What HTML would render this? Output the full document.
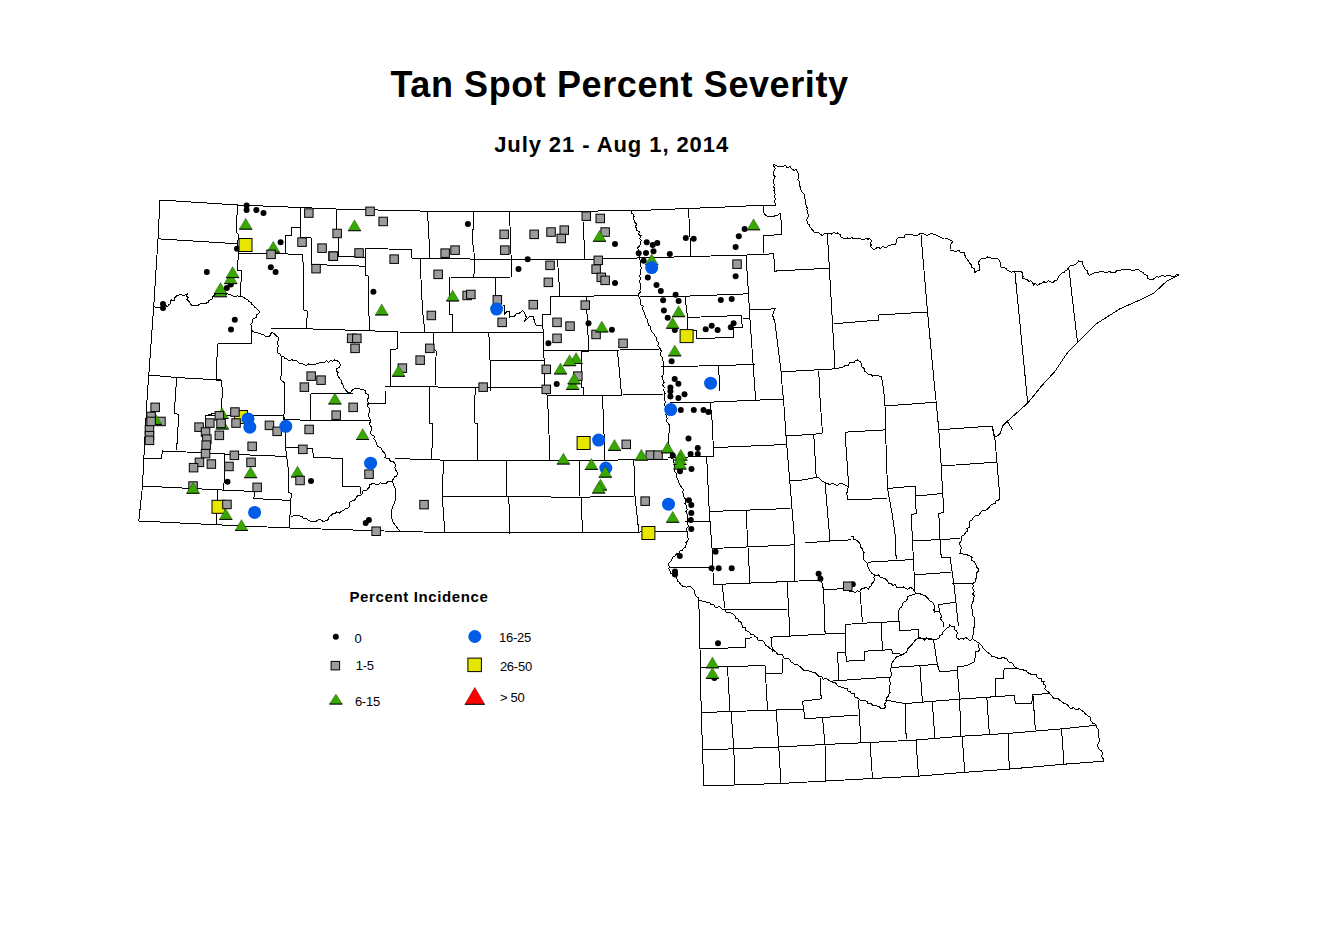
<!DOCTYPE html>
<html><head><meta charset="utf-8"><style>
html,body{margin:0;padding:0;background:#fff;}
svg{display:block;}
text{font-family:"Liberation Sans",sans-serif;fill:#000;}
</style></head><body>
<svg width="1341" height="926" viewBox="0 0 1341 926">
<rect width="1341" height="926" fill="#fff"/>
<text x="619.5" y="97.3" font-size="36" font-weight="bold" text-anchor="middle" letter-spacing="0.59">Tan Spot Percent Severity</text>
<text x="611.6" y="151.6" font-size="22" font-weight="bold" text-anchor="middle" letter-spacing="0.92">July 21 - Aug 1, 2014</text>
<g fill="none" stroke="#000" stroke-width="1" shape-rendering="crispEdges"><path d="M160 200 L237.5 205 L300 207.5 L336 209 L427.5 211.2 L470 211.8 L631 210.8 L740 206.4 L756.8 205.3 L775.6 205.1 M160 200 L158 238.8 L153.8 305 L148.8 375 L147.5 391 L143.8 458.5 L142.5 486 L138.8 521 M138.8 521 L217.5 524.8 L290 528 L400 531.5 L470 533 L640 532 L687.5 531 M775.6 205.1 L775 203.1 L774.5 201.1 L775.7 199 L774.1 197 L775.2 194.9 L774.7 192.9 L773.8 190.9 L774.9 188.9 L773.5 186.9 L774.5 184.8 L773.4 182.8 L773.4 180.8 L774.2 178.7 L775.1 176.6 L773.2 174.7 L773.4 172.7 L774.3 170.6 L775.1 168.5 L774 166.5 L773.7 164.5 L776.4 165.6 L778.9 167.1 L782.7 166.5 L785.3 165.2 L786.8 167.6 L790.2 166.8 L791.8 169.1 L793.9 170.3 L796.3 169.7 L797.3 171.6 L798.1 173.5 L798.6 175.5 L798.6 177.6 L797.8 179.9 L799.9 181.6 L799.3 183.8 L799.6 185.9 L800.8 187.7 L800.9 189.8 L801.8 192.1 L803.9 193.9 L804.9 196.2 L804.8 198.9 L806 201 L805.3 203.4 L806.4 205.5 L807.1 207.7 L806.9 210 L807.7 212.2 L808 214.4 L808.4 216.7 L806.9 218.9 L807 221.2 L807.4 223.5 L809.2 224.7 L809.8 226.9 L811.2 228.4 L812.5 230 L814 232 L816.1 232.8 L818.6 232.9 L820.3 234.5 L822.8 235.5 L824.9 233 L827.4 233.8 L829.4 233.4 L831.5 234.1 L833.4 232.4 L835.5 233.1 L837.5 233 L840.3 234.5 L841.2 237.5 L843.3 238 L845.3 238.4 L847.4 238 L849.4 238.8 L851.5 237.5 L853.5 238.5 L855.6 238.4 L857.7 238.4 L859.7 238.2 L861.7 239.3 L863.8 239.6 L865.9 238.5 L867.9 239.1 L870 238.8 L871.6 240.5 L870.5 242.9 L871.1 244.8 L870.8 247.1 L872.5 248.8 L874.7 249.4 L876.6 247.8 L878.7 247.8 L880.9 248.4 L882.8 246.5 L885 247.5 L887 246.9 L888.8 245.7 L890.8 245 L892.7 244.4 L895 245 L896.3 242.7 L896.2 240 L897.7 238.2 L899.7 237.6 L901.8 237 L904.2 237.2 L905.1 234.4 L907.5 234.5 L909.5 234.3 L911.6 234.5 L913.7 235.4 L915.7 235.1 L917.7 235.2 L919.8 233.7 L921.8 234 L923.9 233.8 L925.9 235.1 L928 235.2 L930 234 L932.3 233.8 L934.3 234.5 L936.4 235.3 L938.4 236 L940.2 237.3 L942.2 238.2 L944.5 238 L946.8 238 L948.5 239.7 L950.6 240.3 L952.5 241.2 L951.7 243.4 L950.1 245.3 L950.1 247.7 L950 250 L952.1 250.4 L954.2 251 L956.4 251.5 L958.8 250.3 L960.5 252.8 L962.7 252.9 L965 252.5 L964.9 255.3 L965.9 257.7 L967.5 260 L968.8 261.6 L969.9 263.4 L971.6 264.8 L971.5 267.3 L973.8 268.3 L974.9 270.1 L975 272.5 L977.2 270.6 L980 270 L979.1 268 L979.6 266 L978.8 264 L978.7 262 L980 260 L981.8 258.6 L983.7 258 L985.9 258.2 L987.7 256.8 L990 257.5 L992 258.9 L994.2 258.7 L996.6 258 L998.6 259.3 L1000 261.7 L1000.4 264.3 L1000.8 266.9 L1003.1 267.6 L1005.6 268.2 L1007.3 270.1 L1009.3 271.4 L1011.4 272.1 L1013.8 271.2 L1016.3 271.1 L1018.8 271.2 L1021.3 271.2 L1022.7 273.6 L1023.1 276.1 L1022.4 278.8 L1024.6 278.9 L1026.8 279.3 L1028.6 281.2 L1031 280.9 L1032.9 282.6 L1033.2 285.2 L1035.1 283.5 L1037.8 285.3 L1039.7 283.7 L1041.8 283.1 L1043.8 281.8 L1046.2 282.5 L1048.1 280.8 L1050.5 281.7 L1052.8 282.5 L1054.8 280.9 L1056.9 280.1 L1058 278.4 L1058.7 276.2 L1060.3 274.9 L1061.4 273.1 L1064 272.8 L1065 270.9 L1066.9 269.9 L1067.8 268 L1069.4 266.5 L1071 265.1 L1073.6 265.2 L1075.7 264.4 L1077.3 262.9 L1078.6 261 L1080.7 262 L1082.9 261.5 L1082.8 264.2 L1083.7 266.7 L1085 269 L1087.1 270.8 L1087.9 273.4 L1089.4 275.5 L1091.4 274.5 L1093.4 273.1 L1095.5 272.5 L1097.8 272.5 L1100 271.8 L1102.3 271.8 L1104.5 272.1 L1106.7 272.7 L1108.8 271.2 L1111 272.3 L1113.2 272.3 L1115.4 272.1 L1117.4 270.4 L1119.6 270.6 L1121.7 269.7 L1123.9 269.5 L1126 269.2 L1128.2 269 L1130.4 269.9 L1132.7 270.4 L1134.8 270.1 L1136.9 269 L1139.1 270.1 L1141 271.6 L1143.3 272.3 L1144.3 274.7 L1147.4 275.3 L1147.9 278.2 L1149.8 279.8 L1152.4 279.7 L1154.5 278.3 L1156.3 276.6 L1158.5 277.1 L1160.6 276.2 L1162.7 275.2 L1165 276.6 L1167.1 275.2 L1169.3 275.5 L1171.8 276.1 L1174.2 276.4 L1176.6 274.8 L1179 274.9 M1179 274.9 L1167.1 280.9 L1154.1 292.8 L1141.2 299.3 L1119.6 309 L1095.8 324.1 L1078.6 341.4 L1067.8 352.2 L1054.8 371.6 L1041.8 385.7 L1027.8 403 L1007.3 421.3 L1003 425.6 L999.7 434.3 L994.3 437.5 L992.2 426 M1007.3 421.3 L1012.7 430 M992.2 426 L994.8 437.2 L1000 498.5 M1000 498.5 L998.5 500.3 L995.8 501 L995 503.5 L992.2 504.2 L990 506 L988.8 507.9 L987.2 509.3 L985.5 510.5 L982.7 510.2 L981.2 511.6 L980 513.5 L978.9 515.5 L976.2 515.3 L974.3 516.3 L973.1 518.2 L971.9 520.1 L970 521 L969.4 523 L969.9 525.2 L969.7 527.3 L966.8 528.7 L967.5 531 L965.6 532.6 L964.3 534.7 L961.9 535.9 L961.2 538.5 L961.2 540.7 L959.9 542.7 L959.9 544.9 L961.3 547.1 L961 549.3 L960.7 551.4 L960 553.5 L962.2 553.3 L963.9 554.7 L966.2 554.4 L968.1 555.3 L970 556 L972.1 557.3 L971.7 560.3 L974.2 561.4 L975.2 563.4 L976.3 565.4 L976.9 567.7 L979 569 L978.5 571.2 L976.6 573 L977 575.5 L976.3 577.6 L975.6 579.8 L975 582 L972 584 L973.5 585.8 L972.7 588 L973.6 589.9 L974.3 591.8 L972.5 594.1 L974.3 595.9 L973.8 598 L974 600 L972.5 602.1 L971.9 604.6 L971 607 L972 609 L972.1 611.3 L972.6 613.5 L972.6 615.9 L974.9 617.6 L974.5 620 L974.2 622.2 L974.9 624.4 L974.7 626.5 L973.2 628.6 L973.8 630.8 L973.5 633 L972.9 635.1 L972.3 637.3 L973.2 639.5 M973.2 639.5 L975.4 640.6 L977.3 642.2 L979.5 643.2 L981 645 L982.5 646.7 L983.6 648.8 L985.6 650.2 L987 652 L988.8 653.3 L990.7 654.4 L991.9 656.6 L994.4 656.9 L996.4 657.6 L998.4 658.3 L1000.5 658.6 L1002.7 657.1 L1004.7 658.1 L1006.8 658.1 L1007.4 660.6 L1009.1 662.2 L1012 662.7 L1013.5 664.4 L1014.3 666.8 L1016.8 667.9 L1019.2 669.3 L1021.7 669 L1023.7 670.1 L1025.9 670.4 L1027.6 672.6 L1029.6 673.6 L1031.6 674.6 L1034.1 674.3 L1036.3 674.8 L1037.1 677.2 L1038.8 678.3 L1041.3 678.5 L1041.8 681.3 L1044 681.7 L1043.5 684.2 L1046 685.8 L1044.7 688.5 L1046.5 690.4 L1048.4 691.9 L1049.9 693.7 L1051.5 695.4 L1052.8 697.7 L1055 698.6 L1058 698.4 L1059.6 700.2 L1061.5 701.6 L1063.1 702.8 L1065 703.6 L1066.9 704.4 L1068.4 705.8 L1069.4 707.8 L1071.4 708.5 L1073.6 707.6 L1075.3 709.4 L1077.4 709.4 L1079.5 708.7 L1081.3 710.3 L1083.5 711.5 L1084.8 713.6 L1086.9 715 L1088.8 716.5 L1090.9 717.5 L1090.3 720.6 L1091.9 721.9 L1092.8 723.8 L1095.8 724.1 L1096.2 726.4 L1097.6 728.7 L1099 731 L1098.7 733.9 L1098 736 L1099.3 738.2 L1099.7 740.3 L1098.9 742.4 L1097.6 744.5 L1097.9 746.7 L1098.7 748.8 L1100.4 750.1 L1101.9 751.5 L1102.4 753.7 L1101.8 756.4 L1103.1 758.7 L1103.7 761.2 M1103.7 761.2 L1064 764.2 L1009.3 769.1 L963.3 772.4 L918.6 776.1 L872.5 778.5 L826 781 L780 783.5 L703.8 786 M703.8 786 L702.5 750 L701.2 710 L700 648.8 L698.8 600 M631 210.8 L631.2 212.9 L633.3 214.3 L634.1 216.3 L633.2 218.7 L634.5 220.5 L635 222.5 L636.7 224.1 L635.3 226.8 L636.8 228.5 L637 230.5 L639.5 231.9 L638.3 234.5 L640.9 235.7 L639.7 238.4 L641.2 240 L640.7 242.1 L640.4 244.3 L639.2 246.2 L637.7 248 L638.7 250.6 L637.5 252.5 L639.2 254.7 L639.1 257.5 L640 260 L640.7 262 L641 264 L640.9 266 L641.2 268 L640.8 270 L640.5 272 L640.5 274 L639.3 276 L640.5 278 L640 280 L639.8 282 L640.5 284.1 L639.9 286.1 L640.6 288.2 L639.9 290.2 L640.3 292.3 L638.3 294.2 L638.8 296.2 L639.3 298.4 L640.9 300.2 L640.9 302.5 L640.5 304.9 L643.2 306.3 L642.1 309 L643.8 310.8 L644.3 312.9 L645 315 L645.1 317.3 L647 318.7 L647.6 320.8 L648 322.9 L648.2 325.1 L650.6 326.4 L650.3 328.8 L651.4 330.6 L652.5 332.5 L653.9 334.1 L654.9 336 L656.4 337.6 L656.2 340 L657.9 341.6 L658.7 343.5 L657.7 346 L659.6 347.6 L660.5 349.4 L661.4 351.3 L660.3 353.9 L660.9 355.9 L662.5 357.5 L662.1 359.6 L663.2 361.7 L663.4 363.8 L663.4 365.9 L663 368 L663.9 370 L663.2 372.2 L663.7 374.2 L662 376.4 L662.1 378.5 L663.2 380.5 L664.1 382.6 L662.3 384.8 L664.1 386.8 L664 388.9 L663.8 391 L665.2 393 L664.4 395.3 L664.4 397.4 L664.5 399.6 L665.4 401.6 L664.8 403.9 L665 406 L666.4 408.1 L665.9 410.2 L666.5 412.4 L665.8 414.6 L666.9 416.6 L667.1 418.8 L666 421 L667.8 422.8 L669.3 424.8 L670 427.2 L669.6 429.5 L669.5 431.8 L668.7 434.1 L668.8 436.4 L668.4 438.7 L668.8 441 L668 443.4 L669.5 445.6 L669.8 447.8 L668.3 450.3 L670.7 452.4 L670 454.8 L670.5 456.8 L671.7 458.4 L674 459.4 L673.2 462.2 L675 463.5 L674.2 465.7 L675 467.7 L674.9 469.8 L674.9 471.9 L676.8 473.8 L676 476 L677 478 L678.1 479.9 L678.4 482.3 L679.6 484.2 L680.6 486.2 L682.2 487.9 L683.5 489.8 L682.7 492.2 L683.5 494.4 L683.8 496.7 L685.2 498.8 L686 501.1 L685 503.5 L686.4 505.4 L686.2 507.6 L687.3 509.5 L685.8 512 L686.9 513.9 L687.5 516 L687.2 518.1 L687.2 520.2 L687 522.2 L687.5 524.3 L688.8 526.4 L686.7 528.5 L686.9 530.6 L687.5 532.7 L687.4 534.8 L687.1 536.8 L688.6 538.9 L687.5 541 L686 542.6 L686.1 545.1 L685.5 547.1 L683.5 548.5 L682.2 550.5 L679.7 551.1 L678.9 553.6 L676.3 554 L675 556 L672.4 557.1 L671.8 559.8 L670.4 561.8 L668.5 563.5 L669.1 566 L669 568.6 L670 571 L670.7 573.1 L672.3 574.5 L673.5 576.2 L675.9 577 L677 578.8 L677.5 581 L679.6 582.2 L680.4 584.8 L682.5 586 L684.6 586 L686.5 587.2 L688.8 586.3 L690.8 586.9 L692.5 588.5 L694.1 590.1 L694.2 592.5 L695.2 594.5 L696.3 596.4 L698.2 597.8 L698.8 600 M698.8 600 L700.9 600.7 L703.2 601.2 L705.3 601.8 L707.5 602.5 L709.8 602.4 L711 605.1 L713.6 604.3 L714.8 607 L716.8 607.7 L719.7 606.3 L721.2 608.2 L722.7 609.9 L725 610 L726.4 612.3 L729.1 612.4 L731.3 613.2 L733.4 614.4 L735 616.2 L735.5 618.7 L738.4 619.1 L739 621.4 L741.3 622.3 L741.9 624.6 L742.4 627 L745.5 627.3 L745.5 630.1 L747.5 631.2 L749.6 632.5 L751.1 634.6 L753.8 635 L755 636.8 L757.5 637.2 L758 639.9 L760.3 640.5 L762.7 640.9 L764.3 642.3 L765.1 644.6 L766.8 645.9 L768.7 647 L770 648.8 L772.5 649.2 L774.2 650.9 L776.3 652.1 L777.5 654.5 L780 655 L782.6 654.8 L783.7 657.6 L785.6 658.8 L788.4 658.1 L790 660 L791.1 662.2 L793.3 663 L794.8 664.6 L797.5 664.6 L799.1 666 L800.9 667.3 L802.5 668.8 L803.9 670.7 L806.2 670.5 L808.3 670.8 L810.1 671.7 L812.1 672.1 L814.2 672.4 L816 673.3 L817.5 675 L819.2 676.8 L821.9 676.6 L823.2 679.1 L826.1 678.6 L828.2 679.7 L830 681.2 L831.9 682.1 L834.2 682.2 L836 683.4 L837.3 685.7 L839.3 686.3 L841.3 687 L843.5 687.4 L845.1 688.9 L847.5 688.8 L848.1 691 L850.3 691.8 L851.5 693.5 L854.2 693.8 L854.4 696.5 L856.2 697.5 L858.3 698.3 L860 700 L862.2 700.7 L864.6 700.7 L866.9 701.1 L868 704.1 L870.9 703.2 L872.5 705 L874.8 705.7 L877.1 706.1 L879.4 706.8 L881.3 708.6 L883.8 708.8 L885.6 706.9 L884.4 704.2 L886 702.3 L886.2 700 L886.7 697.9 L888.3 696.3 L888.8 694.3 L890 692.5 L889.1 690.4 L889.1 688.2 L889.2 686.1 L891.1 683.9 L890 681.8 L889.3 679.6 L890 677.5 L891.3 675.6 L891.8 673.7 L890.6 671.5 L890.1 669.4 L891.2 667.5 L891.5 665 L892.1 662.7 L893.7 660.8 L895 658.8 L896.4 656.9 L898.4 656.3 L900.3 655.4 L902.5 655 L904.1 653.5 L906.1 652.5 L907.3 650.6 L908 648.4 L909.5 646.8 L911.1 645.4 L912.5 643.8 L913.9 641.9 L915.5 640.1 L917.5 638.8 L919.8 637.6 L922.1 638.2 L924.4 640 L926.7 637.8 L929 638.8 L931.2 638.8 L935 640 L937 638.9 L939.1 638 L939.8 635.4 L942 634.6 L942.8 632.6 L944 630.9 L945.6 629.4 L947 627.8 L949.4 627 L949.7 624.6 L951.8 626.6 L954.6 627 L954.2 629.5 L956.8 631.2 L957.3 633.5 L956.1 636.1 L957.1 638.2 L959.1 639.4 L961.4 638.5 L963.5 639 L965.7 637.6 L967.8 638.8 L969.8 640.4 L972 639.5 M158 238.8 L237.5 243.8 M237.5 205 L236.2 232.5 L238.8 235 L237.5 243.8 L238.8 253.8 L238 260 L237.3 262.2 L237.3 270.5 L241.5 270.5 L241.5 281.9 L240.4 282.1 L240.6 297.1 M238.8 253.8 L285 253.8 L302.5 255 M153.8 305.7 L155.5 307.2 L157.4 307.9 L159.7 307.7 L162.8 307.2 L164.6 304.7 L167.6 306.7 L168.6 304.7 L170.6 303.7 L170.1 301.5 L171.6 299.8 L174.5 300.8 L174.7 298 L176.5 295.8 L178.5 295.1 L180.5 294.2 L182.3 295.3 L184.4 295.4 L187.4 293.8 L186.8 296.1 L188.4 297.8 L186.8 299.8 L189.3 301.7 L190.3 304 L192.3 305.7 L194.3 305.7 L196.4 305.4 L198.5 305 L200.2 303.7 L202.8 303.3 L205.5 303.2 L208.1 302.7 L208.8 300.4 L211.1 299.8 L212.8 298.1 L213.1 295.8 L215.4 294.6 L218 294.8 L220.4 295.9 L222.8 295.2 L225.1 294.3 L227.5 293.8 L229.9 294.8 L232.1 295.2 L233.8 296.8 L235.9 296.6 L237.8 295.8 L240.1 296.8 L242.7 296.8 L245.7 298.8 L247.9 299.5 L248.6 301.7 L251 302.2 L251.9 304.4 L253.6 305.7 L255.1 307.5 L257.1 308.8 L258.5 310.6 L259.5 311.6 L258.7 313.7 L256.5 314.6 L256.3 317.2 L254.4 318.3 L252.6 319.5 L252.5 322 L250.9 324.3 L251.5 326.9 L251.6 329.4 L253 331.7 L255.6 332.4 L257.6 333 L259.7 333 L261.5 334.3 L263.8 334.7 L265.4 336.3 L268.1 337 L270.4 335.3 L271.4 332.4 L274.3 333.4 L275.9 335.7 L278.3 337.3 L278.3 340.3 L277.3 343.2 L278.5 345.8 L277.3 348.5 L277.3 351.1 L278.2 353 L280.1 354.3 L281.2 356.1 L283.5 356.5 L285 358.5 L287.2 359.1 L289.2 360.8 L292 359.7 L294.1 361 L297 360.9 L299 363 L301.1 363.1 L303 363.8 L304.8 365 L306.9 365 L308.8 363.9 L311 365.1 L312.9 364 L316 364.1 L318.8 363 L321.8 362.5 L324.7 362 L326.5 360.8 L328.9 362.4 L330.5 360.3 L332.8 361.2 L334.6 360 L337.6 361 L339.6 362.6 L340.5 365 L339.1 367.5 L336.6 368.9 L336.4 371 L338.1 372.7 L337 375.1 L338.6 376.8 L339.6 378.8 L341.3 380.4 L341.5 382.8 L343.2 385 L343.5 387.7 L345.3 389.2 L346.5 391.3 L348.4 392.6 L351.1 392.1 L352.4 389.7 L355.2 388.3 L358.3 388.7 L360.7 389.1 L363.1 389.3 L365.2 390.7 L365.7 393.4 L368.2 394.6 L368.6 397.5 L367.2 400 L368.5 403.5 L367.2 406 L368.9 407.9 L369.4 410 L369.1 412.4 L368.4 414.8 L369 417 L369.9 419 L371 421 L369.7 423 L369.9 425 L371.4 427 L371.8 429 L371 431 L370.7 433.3 L372 435 L374.5 436.2 L373.7 438.7 L375.2 440.3 L376 442.1 L376.9 444 L377.2 446 L379.5 447.1 L381.5 448.4 L382.2 451 L384 452.6 L385.1 454.5 L385 457.3 L387.2 458.5 L389.7 458.9 L390.3 462 L393.3 461.6 L394.8 463.5 L395.6 465.4 L394.9 467.7 L395.4 469.7 L396.9 471.5 L397.2 473.5 L396.9 475.9 L394.8 476.9 L393.5 478.5 L392.2 481 L390.3 481.8 L388 480.9 L386.4 483.3 L384.3 483.3 L382.2 483.5 L380.1 482.7 L378.2 485.1 L376 484.4 L373.8 483.5 L371.8 483.9 L369.8 484.8 L369.2 487.3 L367.7 489 L366.1 490.7 L362.9 491 L362.2 493.5 L361 495.3 L358.5 495.5 L356.6 496.4 L355.8 498.8 L354.3 500.2 L352.2 501 L350 502.2 L349.5 504.6 L349 507 L347.2 508.5 L345 508.8 L343.3 510.6 L341.2 511.5 L339.4 513 L336.6 512 L334.8 513.5 L332.4 513.9 L331.2 515.7 L329.1 516.3 L328.8 519.5 L326.8 520.3 L324.8 521 L322.6 521.1 L320.5 519.8 L318.3 519.8 L316.2 521.3 L314 521.6 L311.9 521.2 L309.8 521 L307.7 520 L306.2 518 L303.4 518.7 L302.1 516.3 L299.8 516 L297.5 515.6 L295.3 515.7 L293.1 516 L291 517 M300 207.5 L300 227 L291 227.5 L291 235 L285 235 L285 253.8 M300 227 L300 237.5 L311.2 238 L311.2 264.5 L365 266.2 M302.5 255 L303.8 273.8 L303.8 310 L307.5 311.2 L306.2 328.8 M270 328 L306.2 328.8 L370 330.8 L397.5 332 L470 332.5 L543.8 332.5 M336 209 L336 232.5 L338.8 235 L338.8 256.2 L365 257.5 L365 266.2 M365 248.8 L411.2 249.2 L411.2 258 L470 258.8 M365 248.8 L365 275 L368.8 276.2 L368.8 312.5 L370 330.8 M427.5 211.2 L428.8 235 L430 258 M420 258.8 L422.5 310 L425 332.5 M451.2 277.5 L470 277.5 L511.2 277 M449.8 277.2 L449.4 300.9 L449.4 314.3 L452.5 314.3 L452.5 332.2 M397.5 332 L397.5 348.8 L390 350 L390 386.2 M433.8 332.5 L433.8 348.8 L436.2 351.2 L435 386.2 M385 386.2 L470 387.5 L543.8 387.5 M148.8 375 L176.2 377.5 L221.2 380 M176.6 378.1 L174.3 413.1 L178.8 414.7 L176.6 450.2 M217.5 343.8 L216.2 380 L221.2 380 L222.5 391 L221.2 411 L205 416 L207 453 M217.5 343.8 L251.2 343.8 L251.2 330 M281.6 356.5 L280.9 379.9 L284.7 382.9 L283.9 419.2 L286.2 420.7 L285.4 446.4 L288.4 470 L288.5 492.6 L291.6 493.6 L290.6 501 L289.5 528.1 M143.8 458.5 L161.2 459 L162.5 451 L210 453 L225 454 L287.5 456.5 M205 416 L255 415.5 L283.8 416 L285 419.8 L371 421 M310 393.5 L311 419.8 M311 393.5 L352.5 394 M385 391 L385 403.5 L367.2 403.5 M392.2 481 L396 491 L395 501 L391.2 511 L392.2 521 L400 531.5 M429.5 386.7 L429.5 423 L432.5 423.7 L431.8 459.3 M394.8 458.5 L470 461 M443.5 461 L442.2 496 L444.8 532 M442.2 496 L470 496.5 M286.2 447.2 L312.5 448.5 L313.5 457.2 L342.2 458.5 L342.2 486 L360 486.8 L361 493.5 M142.5 486 L217.5 489.8 L255 491.5 M225 454 L223.8 489.8 M217.5 489.8 L216.2 524.8 M255 491.5 L253.8 498.5 L291 500.5 M473.8 211.8 L472.5 241 L475 260 L473.8 277.5 M470 260 L511.2 259.5 L556.2 260 L637.5 258 M509.5 211.8 L511.2 259.5 L511.2 277 M495 277.5 L495 297 M582.5 211.8 L585 258.8 M557.5 260 L560 296.2 M550 297 L638.8 295 M550 297 L550 314.5 L542.5 315 L543.8 351 L545 391 L547.5 396 M502.6 305.3 L504.4 305.8 L504.4 314.3 L506.7 311.6 L509.4 311.6 L509.8 317 L514.3 316.5 L516.1 313.8 L518.7 313.8 L522.3 310.7 L524.1 312.1 L526.4 317.4 L524.1 321.9 L529.5 316.5 L533.1 316.5 L535.7 325 L542 325.5 M488.8 332.5 L490 360 L490 391 M490 360 L543.8 360 M586.2 296.2 L588.8 351 L581.5 351 L581.5 387.2 L583.5 387.4 L583.8 396 M543.8 351 L658.8 349.5 M617.5 351 L621.2 391 L621.2 394.8 M475.6 387.4 L474.1 405.6 L474.8 423 L477.9 423.7 L477.1 460 M470 460.2 L506.2 461 L580 460.5 L633.8 459.8 L668.5 459 M547.5 396 L550 459.8 M547.5 396 L602.5 395.5 L663.5 394 M602.5 395.5 L605 459.8 M506.2 461 L506.2 497 M580 460.5 L579.5 496 M633.8 459.8 L635 496 L638.8 532 M470 496.5 L581.2 497.2 L635 496 M508.8 497.2 L510 533.5 M581.2 497.2 L582.5 533 M688.5 208.8 L691 256.2 M637.5 258 L747.5 255 L765 254.5 L773.7 253.3 M746 255 L748.5 293.8 L750 320 L755 391 L756 399.8 M640 296.2 L685 296.2 L748.5 293.8 M685 296.2 L687.5 317.5 M687.5 317.5 L741 315.5 L742.5 327.5 L733.8 327.5 L733.8 337.5 L696 338.5 L696 330 L687.5 330 L687.5 317.5 M742.5 318.8 L750 318.8 M661 367 L755 364.5 M781 371.8 L805 370.5 M718.5 366 L720 391 M750 310 L775 308.8 L772.5 315 L775 322.5 L781 371 L782.5 391 L783.5 399 M763.3 205.3 L763.3 211.8 L765.9 215.7 L771.1 217 L777.6 215.1 L780.8 213.1 L781.5 234.5 L763.3 235.8 L764 253.3 M773.7 253.3 L774.7 271.1 L829.4 268.2 M827.4 233.8 L835 367.5 M833.8 323.8 L878.8 320 L878.8 315 L927.5 312 M921 234.5 L927.5 312 L935 391 L936.2 402.2 L938.8 429.8 L941.2 466 L943.8 512.2 L938.8 513.5 L940 539.8 L941.2 557 L950 557 L953.8 583.6 L955.9 602.2 M1014.8 271.2 L1027.8 404 M1068.8 268 L1077.5 342.5 M805 370.5 L836 368.8 M836 368.8 L838.2 368.6 L840.2 367.5 L842.5 367.5 L844.2 366.1 L846.1 365.3 L848.5 365.3 L849.5 362.8 L851.5 362.1 L854 362.5 L855.3 360.3 L857.5 360 L859.7 361.2 L861 363.1 L861.1 365.7 L862.5 367.5 L864.5 368.6 L865 371.4 L866.8 372.6 L868.3 374.3 L871.2 374.3 L872.5 376.2 L874.7 375.2 L876.9 375.2 L879.1 376.2 L881.2 376.2 L881.1 378.6 L882.2 380.7 L882.5 383 M882.5 383 L883.8 391 L885 406 L886.2 451 L887.5 488.5 L892.5 516 L895 533.5 L896.2 559.5 M818.8 370.5 L819.5 391 L822.5 433.5 M805 434.8 L822.5 433.5 M813.8 434.8 L816.2 477.2 M805 479.8 L816.2 477.2 M816.2 477.2 L818.3 477.6 L819.9 479.1 L821.3 480.5 L823 481.6 L825 482.2 L826.8 483.4 L828.8 484.1 L830.9 484.2 L833.2 483.3 L835 484.8 L837.6 485.2 L839.9 483.4 L842.5 483.5 L844.5 484.9 L846.8 485.7 L848.8 487.2 L847.3 489.1 L847.8 491.7 L846.2 493.5 L847.3 495.5 L847.7 497.5 L847.5 499.8 M825 482.2 L830 541 M805 543 L830 541 L851.2 539.8 M845 432.2 L886.2 429.8 M845 432.2 L848.8 487.2 M847.5 499.8 L887.5 498.5 M885 406 L936.2 402.2 M938.8 429.8 L992.2 426 M941.2 466 L996.2 462.2 M887.5 488.5 L915 486 L916.2 513.5 L911.2 514.8 L912.5 541 L915 591 M916.2 496 L942.5 493.5 M912.5 541 L960 538.5 M867.5 562.2 L913.8 559.5 M915 574.8 L951.2 572.2 M952.5 584 L972.5 583 M851.2 536 L853.4 536.5 L853.8 539.3 L855.8 539.9 L857.5 541 L859.1 542.6 L860.2 544.6 L860.2 547.3 L862.5 548.5 L862.9 550.6 L864 552.5 L863 554.9 L863.8 556.9 L863.3 559.2 L865 561 L867.2 563 L867.5 566 L868.8 568.5 L870 571 L871.6 573 L873.5 574.3 L875.4 575.7 L878.6 575 L880 577.2 L882.1 577.7 L884.2 578.2 L886 579.3 L887.5 581 L888.8 583.1 L891.1 583.3 L892.6 585.1 L895.2 584.9 L896.4 587 L898.8 587.2 L901.1 587.3 L903.4 587 L905.6 588.6 L907.8 589.2 L910.3 587.3 L912.5 588.5 L913.6 590.3 L914.8 592 L916.2 593.5 L918.5 593.2 L920.4 594 L922.4 594.8 L924.6 595.3 L926.2 596.7 L927.7 598 L928.8 599.9 L930.4 601.3 L932.3 602.2 L933.5 604 L934.5 605.9 L934.2 608.1 L933.9 610.3 L934.8 612.2 L937.2 611.4 L939.7 612.2 L940.7 614.2 L941.5 616.2 L940.6 618.7 L941.8 620.7 L943.5 622.5 L944 624.6 L943.5 627 M916.2 593.5 L914.2 594.6 L911.8 595.1 L909.6 595.8 L907.5 597 L907.1 599.5 L905.7 601.2 L903.3 602.3 L902.7 604.6 L901.7 606.7 L900 608.2 L898.6 611 M898.6 611 L899.3 630.7 M821.3 580 L823.5 589.7 L825.1 634 M823.5 589.7 L844.5 588.6 L851 591.8 M851 591.8 L853.1 591.2 L855.4 592.7 L857.4 590.9 L859.6 591.3 L861.8 588.6 L864 588.2 L866.1 587.5 L868.3 589.1 L869.6 587 L871.5 585.4 L872 583.4 L873.7 581.8 L874.7 579.9 L873.8 577.4 L874.8 575.6 M860 592 L862.5 622.5 M670 402.2 L710 402.2 L783.5 399 M710.2 402.5 L712 420 L713.8 456.5 M713.8 447.6 L786 444.5 M668.4 457.4 L713.8 456.5 M783.5 399 L786 436 L789.8 481 L794.8 543.5 L794.8 581 M786 436 L805 434.8 M789.8 481 L805 479.8 M706.7 457.4 L709.3 511.7 L712 548 L713.5 584.5 M685 521 L710 521 M710 511.5 L789.8 508.5 M746 511 L750 583.5 M712.5 548.5 L794.8 544.8 M670 567 L712.5 567 M713.5 584.5 L786.7 581.6 L818.6 580 L821.3 580 M722.2 584.5 L724.8 608.2 M724.8 609.5 L787.2 609.5 M787.2 582 L790 636.2 M770 637.2 L789.4 636.1 L825.1 634 L845 633 M771.2 637.5 L772.5 652.5 M700 648.8 L745 647.5 L745 638.8 L752.5 637.5 M700 667.5 L765 665.5 L766.2 673.8 L782.5 673 L782.5 658.8 M727.5 667.5 L730 711.2 M765 665.5 L767.5 710 M702.5 712.5 L776.2 710 L803.8 709.5 M802.5 701.2 L821.2 698.8 L820 677.5 M802.5 701.2 L805 718.8 M805 718.8 L858.5 715 M858.5 700 L861 742.5 M776.2 710 L778.8 747.5 L781 783.5 M731.2 712.5 L733.8 748.8 L735 785 M702.5 750 L778.8 747 L823.8 744.5 L870 742.5 L916 740 L962.2 736.2 L1008 733.4 L1061.5 728.9 L1096.2 725.2 M822.5 717.5 L825 745 L826 781 M870 742.5 L872.5 778.5 M916 740 L918.5 776 M962.2 736.2 L964.8 773 M1008 733.4 L1009.3 769.1 M1061.5 728.9 L1064 764.2 M885 700 L905 703.6 L959.6 699.1 L1014.3 695.4 L1015.5 704 L1031.6 703.6 L1032.9 694.6 L1049 693.6 M905 703.6 L906.2 738.8 M932.3 701.6 L934.8 737.6 M986.9 697.9 L989.4 735.1 M1032.9 694.6 L1035.4 730.1 M959.6 699.1 L957.1 666.8 L967.1 665.6 L974.5 661.8 L975.8 651.9 L979.5 650.7 L978.2 644.5 M891.2 667.5 L919.9 665.6 L937.3 664.3 L939.7 671.8 L957.1 670.5 M919.9 665.6 L922.4 701.6 M933.5 639.5 L937.3 664.3 M995.6 696.6 L995.6 678 L1003.1 678 L1004.3 668 L1016.7 668 M845 624.5 L862.3 623.2 L881 622.5 L900 621 M845 625 L846.2 661.2 L864.8 660 L864.8 651.2 L891.7 649.6 L892.5 653.4 L901.6 654.1 M881 622.5 L882.5 650 M837.5 652.5 L846 652 M837.5 652.5 L838.8 680 M830 681.2 L890 677 M900 630.8 L918.6 629.5 L918.6 638.2 L933.5 639.5 M938.5 604.7 L955.9 602.2 L958.4 625.8 M938.5 604.7 L939.7 612.2 M959.6 699.1 L960.9 736.4"/></g>
<g><circle cx="246.6" cy="205.6" r="3" fill="#000"/><circle cx="246.6" cy="210.1" r="3" fill="#000"/><circle cx="256.4" cy="210.1" r="3" fill="#000"/><circle cx="263.5" cy="213.1" r="3" fill="#000"/><circle cx="237" cy="248.7" r="3" fill="#000"/><circle cx="280.6" cy="242.2" r="3" fill="#000"/><circle cx="206.8" cy="272.1" r="3" fill="#000"/><circle cx="230.8" cy="284.5" r="3" fill="#000"/><circle cx="270.8" cy="267.3" r="3" fill="#000"/><circle cx="275.6" cy="272.1" r="3" fill="#000"/><circle cx="163" cy="304" r="3" fill="#000"/><circle cx="163" cy="308" r="3" fill="#000"/><circle cx="234.8" cy="319.7" r="3" fill="#000"/><circle cx="231" cy="329.5" r="3" fill="#000"/><circle cx="373.4" cy="291.7" r="3" fill="#000"/><circle cx="467.9" cy="224" r="3" fill="#000"/><circle cx="518.5" cy="269.1" r="3" fill="#000"/><circle cx="469" cy="296.5" r="3" fill="#000"/><circle cx="615" cy="244.1" r="3" fill="#000"/><circle cx="527.7" cy="259.2" r="3" fill="#000"/><circle cx="615" cy="283" r="3" fill="#000"/><circle cx="588.5" cy="323.2" r="3" fill="#000"/><circle cx="611.9" cy="329.8" r="3" fill="#000"/><circle cx="646.7" cy="242.2" r="3" fill="#000"/><circle cx="652.7" cy="244.9" r="3" fill="#000"/><circle cx="657.3" cy="243.1" r="3" fill="#000"/><circle cx="653.5" cy="251.2" r="3" fill="#000"/><circle cx="646" cy="252.9" r="3" fill="#000"/><circle cx="638.7" cy="253.2" r="3" fill="#000"/><circle cx="669.8" cy="254" r="3" fill="#000"/><circle cx="685.8" cy="238" r="3" fill="#000"/><circle cx="693.7" cy="238.8" r="3" fill="#000"/><circle cx="643.7" cy="260.8" r="3" fill="#000"/><circle cx="647.8" cy="277.4" r="3" fill="#000"/><circle cx="656.5" cy="285" r="3" fill="#000"/><circle cx="660.8" cy="291" r="3" fill="#000"/><circle cx="675.6" cy="294.7" r="3" fill="#000"/><circle cx="663.1" cy="300.2" r="3" fill="#000"/><circle cx="678.6" cy="301" r="3" fill="#000"/><circle cx="720.8" cy="299.9" r="3" fill="#000"/><circle cx="731.7" cy="299" r="3" fill="#000"/><circle cx="663.9" cy="310.4" r="3" fill="#000"/><circle cx="667.7" cy="317.8" r="3" fill="#000"/><circle cx="674.8" cy="330.1" r="3" fill="#000"/><circle cx="705.7" cy="329.2" r="3" fill="#000"/><circle cx="711.7" cy="325.7" r="3" fill="#000"/><circle cx="717.6" cy="330" r="3" fill="#000"/><circle cx="733.6" cy="323.2" r="3" fill="#000"/><circle cx="730.8" cy="327.2" r="3" fill="#000"/><circle cx="744.6" cy="229" r="3" fill="#000"/><circle cx="738.8" cy="236.3" r="3" fill="#000"/><circle cx="735.6" cy="247" r="3" fill="#000"/><circle cx="735.6" cy="276.3" r="3" fill="#000"/><circle cx="548.4" cy="343.3" r="3" fill="#000"/><circle cx="556.7" cy="384.1" r="3" fill="#000"/><circle cx="671.6" cy="361.3" r="3" fill="#000"/><circle cx="674.7" cy="379.1" r="3" fill="#000"/><circle cx="678.4" cy="383.7" r="3" fill="#000"/><circle cx="670.4" cy="387.4" r="3" fill="#000"/><circle cx="670.4" cy="391.2" r="3" fill="#000"/><circle cx="684.5" cy="394.2" r="3" fill="#000"/><circle cx="670.4" cy="396.5" r="3" fill="#000"/><circle cx="678.4" cy="398" r="3" fill="#000"/><circle cx="680.8" cy="410.1" r="3" fill="#000"/><circle cx="693.8" cy="410.1" r="3" fill="#000"/><circle cx="703.5" cy="410.1" r="3" fill="#000"/><circle cx="708.4" cy="411.9" r="3" fill="#000"/><circle cx="688.5" cy="438.6" r="3" fill="#000"/><circle cx="697.8" cy="448.1" r="3" fill="#000"/><circle cx="690.6" cy="454.1" r="3" fill="#000"/><circle cx="697.8" cy="454.1" r="3" fill="#000"/><circle cx="672.8" cy="455.6" r="3" fill="#000"/><circle cx="680" cy="471.3" r="3" fill="#000"/><circle cx="691.5" cy="469" r="3" fill="#000"/><circle cx="688.9" cy="500.3" r="3" fill="#000"/><circle cx="691.3" cy="505" r="3" fill="#000"/><circle cx="691.3" cy="513" r="3" fill="#000"/><circle cx="690.8" cy="520" r="3" fill="#000"/><circle cx="691.3" cy="529.1" r="3" fill="#000"/><circle cx="679.8" cy="556.1" r="3" fill="#000"/><circle cx="715.6" cy="551.8" r="3" fill="#000"/><circle cx="711.6" cy="568.2" r="3" fill="#000"/><circle cx="718.7" cy="568.2" r="3" fill="#000"/><circle cx="731.7" cy="568.2" r="3" fill="#000"/><circle cx="675" cy="571.5" r="3" fill="#000"/><circle cx="675" cy="574.5" r="3" fill="#000"/><circle cx="311" cy="481.1" r="3" fill="#000"/><circle cx="227.5" cy="481.7" r="3" fill="#000"/><circle cx="365.7" cy="522.9" r="3" fill="#000"/><circle cx="368.9" cy="520.1" r="3" fill="#000"/><circle cx="818.6" cy="573.7" r="3" fill="#000"/><circle cx="820.4" cy="578.7" r="3" fill="#000"/><circle cx="852.8" cy="584.2" r="3" fill="#000"/><circle cx="718" cy="643.2" r="3" fill="#000"/><circle cx="714.4" cy="677.9" r="3" fill="#000"/><rect x="239" y="238.5" width="13" height="13" fill="#e6e600" stroke="#000" stroke-width="1"/><rect x="680.1" y="329.6" width="13" height="13" fill="#e6e600" stroke="#000" stroke-width="1"/><rect x="577.1" y="436.5" width="13" height="13" fill="#e6e600" stroke="#000" stroke-width="1"/><rect x="641.9" y="526.5" width="13" height="13" fill="#e6e600" stroke="#000" stroke-width="1"/><rect x="234.5" y="410.5" width="13" height="13" fill="#e6e600" stroke="#000" stroke-width="1"/><rect x="212" y="500.3" width="13" height="13" fill="#e6e600" stroke="#000" stroke-width="1"/><rect x="304.6" y="208.8" width="8.5" height="8.5" fill="#9c9c9c" stroke="#000" stroke-width="1"/><rect x="297.8" y="237.9" width="8.5" height="8.5" fill="#9c9c9c" stroke="#000" stroke-width="1"/><rect x="317.8" y="243.9" width="8.5" height="8.5" fill="#9c9c9c" stroke="#000" stroke-width="1"/><rect x="328.8" y="251.9" width="8.5" height="8.5" fill="#9c9c9c" stroke="#000" stroke-width="1"/><rect x="311.8" y="264.4" width="8.5" height="8.5" fill="#9c9c9c" stroke="#000" stroke-width="1"/><rect x="332.9" y="229.2" width="8.5" height="8.5" fill="#9c9c9c" stroke="#000" stroke-width="1"/><rect x="365.8" y="207.1" width="8.5" height="8.5" fill="#9c9c9c" stroke="#000" stroke-width="1"/><rect x="378.9" y="217.2" width="8.5" height="8.5" fill="#9c9c9c" stroke="#000" stroke-width="1"/><rect x="354.8" y="248.7" width="8.5" height="8.5" fill="#9c9c9c" stroke="#000" stroke-width="1"/><rect x="329.1" y="251.9" width="8.5" height="8.5" fill="#9c9c9c" stroke="#000" stroke-width="1"/><rect x="389.9" y="254.9" width="8.5" height="8.5" fill="#9c9c9c" stroke="#000" stroke-width="1"/><rect x="440.9" y="248.9" width="8.5" height="8.5" fill="#9c9c9c" stroke="#000" stroke-width="1"/><rect x="450.8" y="245.9" width="8.5" height="8.5" fill="#9c9c9c" stroke="#000" stroke-width="1"/><rect x="499.9" y="230.1" width="8.5" height="8.5" fill="#9c9c9c" stroke="#000" stroke-width="1"/><rect x="500.6" y="245.9" width="8.5" height="8.5" fill="#9c9c9c" stroke="#000" stroke-width="1"/><rect x="433.9" y="270.1" width="8.5" height="8.5" fill="#9c9c9c" stroke="#000" stroke-width="1"/><rect x="462.9" y="291.2" width="8.5" height="8.5" fill="#9c9c9c" stroke="#000" stroke-width="1"/><rect x="466.6" y="290.2" width="8.5" height="8.5" fill="#9c9c9c" stroke="#000" stroke-width="1"/><rect x="427.1" y="311.2" width="8.5" height="8.5" fill="#9c9c9c" stroke="#000" stroke-width="1"/><rect x="493.1" y="295.6" width="8.5" height="8.5" fill="#9c9c9c" stroke="#000" stroke-width="1"/><rect x="497.9" y="318.1" width="8.5" height="8.5" fill="#9c9c9c" stroke="#000" stroke-width="1"/><rect x="529.9" y="230.1" width="8.5" height="8.5" fill="#9c9c9c" stroke="#000" stroke-width="1"/><rect x="546.8" y="227.8" width="8.5" height="8.5" fill="#9c9c9c" stroke="#000" stroke-width="1"/><rect x="560" y="225.9" width="8.5" height="8.5" fill="#9c9c9c" stroke="#000" stroke-width="1"/><rect x="557" y="234.2" width="8.5" height="8.5" fill="#9c9c9c" stroke="#000" stroke-width="1"/><rect x="582" y="211.9" width="8.5" height="8.5" fill="#9c9c9c" stroke="#000" stroke-width="1"/><rect x="596" y="214.2" width="8.5" height="8.5" fill="#9c9c9c" stroke="#000" stroke-width="1"/><rect x="600.9" y="227.8" width="8.5" height="8.5" fill="#9c9c9c" stroke="#000" stroke-width="1"/><rect x="545.8" y="261.1" width="8.5" height="8.5" fill="#9c9c9c" stroke="#000" stroke-width="1"/><rect x="544.1" y="278.1" width="8.5" height="8.5" fill="#9c9c9c" stroke="#000" stroke-width="1"/><rect x="594" y="256.1" width="8.5" height="8.5" fill="#9c9c9c" stroke="#000" stroke-width="1"/><rect x="591.9" y="264.9" width="8.5" height="8.5" fill="#9c9c9c" stroke="#000" stroke-width="1"/><rect x="597" y="273.1" width="8.5" height="8.5" fill="#9c9c9c" stroke="#000" stroke-width="1"/><rect x="600.9" y="276.1" width="8.5" height="8.5" fill="#9c9c9c" stroke="#000" stroke-width="1"/><rect x="529" y="300.4" width="8.5" height="8.5" fill="#9c9c9c" stroke="#000" stroke-width="1"/><rect x="581" y="300.9" width="8.5" height="8.5" fill="#9c9c9c" stroke="#000" stroke-width="1"/><rect x="552.8" y="318.1" width="8.5" height="8.5" fill="#9c9c9c" stroke="#000" stroke-width="1"/><rect x="565.8" y="321.9" width="8.5" height="8.5" fill="#9c9c9c" stroke="#000" stroke-width="1"/><rect x="591.8" y="330.2" width="8.5" height="8.5" fill="#9c9c9c" stroke="#000" stroke-width="1"/><rect x="732.8" y="259.9" width="8.5" height="8.5" fill="#9c9c9c" stroke="#000" stroke-width="1"/><rect x="552.8" y="334.1" width="8.5" height="8.5" fill="#9c9c9c" stroke="#000" stroke-width="1"/><rect x="618.8" y="339.1" width="8.5" height="8.5" fill="#9c9c9c" stroke="#000" stroke-width="1"/><rect x="542" y="365.1" width="8.5" height="8.5" fill="#9c9c9c" stroke="#000" stroke-width="1"/><rect x="573.6" y="371.9" width="8.5" height="8.5" fill="#9c9c9c" stroke="#000" stroke-width="1"/><rect x="542" y="385.1" width="8.5" height="8.5" fill="#9c9c9c" stroke="#000" stroke-width="1"/><rect x="622" y="440.1" width="8.5" height="8.5" fill="#9c9c9c" stroke="#000" stroke-width="1"/><rect x="646" y="450.9" width="8.5" height="8.5" fill="#9c9c9c" stroke="#000" stroke-width="1"/><rect x="653.8" y="450.9" width="8.5" height="8.5" fill="#9c9c9c" stroke="#000" stroke-width="1"/><rect x="640.9" y="496.9" width="8.5" height="8.5" fill="#9c9c9c" stroke="#000" stroke-width="1"/><rect x="347.4" y="334.1" width="8.5" height="8.5" fill="#9c9c9c" stroke="#000" stroke-width="1"/><rect x="352.6" y="334.1" width="8.5" height="8.5" fill="#9c9c9c" stroke="#000" stroke-width="1"/><rect x="350.8" y="344.1" width="8.5" height="8.5" fill="#9c9c9c" stroke="#000" stroke-width="1"/><rect x="425.6" y="344.1" width="8.5" height="8.5" fill="#9c9c9c" stroke="#000" stroke-width="1"/><rect x="415.9" y="355.9" width="8.5" height="8.5" fill="#9c9c9c" stroke="#000" stroke-width="1"/><rect x="398.1" y="363.9" width="8.5" height="8.5" fill="#9c9c9c" stroke="#000" stroke-width="1"/><rect x="478.9" y="382.9" width="8.5" height="8.5" fill="#9c9c9c" stroke="#000" stroke-width="1"/><rect x="348.9" y="403.1" width="8.5" height="8.5" fill="#9c9c9c" stroke="#000" stroke-width="1"/><rect x="331.9" y="410.9" width="8.5" height="8.5" fill="#9c9c9c" stroke="#000" stroke-width="1"/><rect x="364.8" y="469.9" width="8.5" height="8.5" fill="#9c9c9c" stroke="#000" stroke-width="1"/><rect x="306.9" y="371.9" width="8.5" height="8.5" fill="#9c9c9c" stroke="#000" stroke-width="1"/><rect x="316.8" y="375.9" width="8.5" height="8.5" fill="#9c9c9c" stroke="#000" stroke-width="1"/><rect x="300.1" y="382.9" width="8.5" height="8.5" fill="#9c9c9c" stroke="#000" stroke-width="1"/><rect x="304.9" y="425.2" width="8.5" height="8.5" fill="#9c9c9c" stroke="#000" stroke-width="1"/><rect x="298.6" y="445.1" width="8.5" height="8.5" fill="#9c9c9c" stroke="#000" stroke-width="1"/><rect x="150.9" y="403.1" width="8.5" height="8.5" fill="#9c9c9c" stroke="#000" stroke-width="1"/><rect x="156.7" y="417.2" width="8.5" height="8.5" fill="#9c9c9c" stroke="#000" stroke-width="1"/><rect x="145.2" y="425.4" width="8.5" height="8.5" fill="#9c9c9c" stroke="#000" stroke-width="1"/><rect x="145.2" y="431.4" width="8.5" height="8.5" fill="#9c9c9c" stroke="#000" stroke-width="1"/><rect x="145.2" y="436.1" width="8.5" height="8.5" fill="#9c9c9c" stroke="#000" stroke-width="1"/><rect x="194.8" y="422.9" width="8.5" height="8.5" fill="#9c9c9c" stroke="#000" stroke-width="1"/><rect x="205.6" y="418.8" width="8.5" height="8.5" fill="#9c9c9c" stroke="#000" stroke-width="1"/><rect x="201.3" y="427.8" width="8.5" height="8.5" fill="#9c9c9c" stroke="#000" stroke-width="1"/><rect x="202.6" y="434.9" width="8.5" height="8.5" fill="#9c9c9c" stroke="#000" stroke-width="1"/><rect x="201.9" y="440.9" width="8.5" height="8.5" fill="#9c9c9c" stroke="#000" stroke-width="1"/><rect x="201.3" y="449.4" width="8.5" height="8.5" fill="#9c9c9c" stroke="#000" stroke-width="1"/><rect x="195.2" y="458.1" width="8.5" height="8.5" fill="#9c9c9c" stroke="#000" stroke-width="1"/><rect x="189.3" y="463.4" width="8.5" height="8.5" fill="#9c9c9c" stroke="#000" stroke-width="1"/><rect x="207.1" y="459.8" width="8.5" height="8.5" fill="#9c9c9c" stroke="#000" stroke-width="1"/><rect x="215.1" y="431.1" width="8.5" height="8.5" fill="#9c9c9c" stroke="#000" stroke-width="1"/><rect x="230.7" y="407.8" width="8.5" height="8.5" fill="#9c9c9c" stroke="#000" stroke-width="1"/><rect x="231.8" y="418.8" width="8.5" height="8.5" fill="#9c9c9c" stroke="#000" stroke-width="1"/><rect x="247.9" y="442.1" width="8.5" height="8.5" fill="#9c9c9c" stroke="#000" stroke-width="1"/><rect x="230.1" y="451.1" width="8.5" height="8.5" fill="#9c9c9c" stroke="#000" stroke-width="1"/><rect x="246.8" y="458.1" width="8.5" height="8.5" fill="#9c9c9c" stroke="#000" stroke-width="1"/><rect x="224.7" y="462.2" width="8.5" height="8.5" fill="#9c9c9c" stroke="#000" stroke-width="1"/><rect x="265.2" y="421.1" width="8.5" height="8.5" fill="#9c9c9c" stroke="#000" stroke-width="1"/><rect x="272.9" y="427.1" width="8.5" height="8.5" fill="#9c9c9c" stroke="#000" stroke-width="1"/><rect x="252.9" y="483.1" width="8.5" height="8.5" fill="#9c9c9c" stroke="#000" stroke-width="1"/><rect x="188.8" y="481.8" width="8.5" height="8.5" fill="#9c9c9c" stroke="#000" stroke-width="1"/><rect x="222.7" y="500.2" width="8.5" height="8.5" fill="#9c9c9c" stroke="#000" stroke-width="1"/><rect x="371.9" y="527" width="8.5" height="8.5" fill="#9c9c9c" stroke="#000" stroke-width="1"/><rect x="419.8" y="500.4" width="8.5" height="8.5" fill="#9c9c9c" stroke="#000" stroke-width="1"/><rect x="843.5" y="582" width="8.5" height="8.5" fill="#9c9c9c" stroke="#000" stroke-width="1"/><path d="M245.7 218.2 L252.2 229.2 L239.2 229.2 Z" fill="#38a800" stroke="#000" stroke-opacity="0.45" stroke-width="0.6"/><rect x="239.2" y="228.7" width="13" height="1" fill="#000"/><path d="M273.3 241.2 L279.8 252.2 L266.8 252.2 Z" fill="#38a800" stroke="#000" stroke-opacity="0.45" stroke-width="0.6"/><rect x="266.8" y="251.7" width="13" height="1" fill="#000"/><path d="M230.7 272.6 L237.2 283.6 L224.2 283.6 Z" fill="#38a800" stroke="#000" stroke-opacity="0.45" stroke-width="0.6"/><rect x="224.2" y="283.1" width="13" height="1" fill="#000"/><path d="M220.5 285.8 L227 296.8 L214 296.8 Z" fill="#38a800" stroke="#000" stroke-opacity="0.45" stroke-width="0.6"/><rect x="214" y="296.3" width="13" height="1" fill="#000"/><path d="M354.5 219.7 L361 230.7 L348 230.7 Z" fill="#38a800" stroke="#000" stroke-opacity="0.45" stroke-width="0.6"/><rect x="348" y="230.2" width="13" height="1" fill="#000"/><path d="M381.7 304 L388.2 315 L375.2 315 Z" fill="#38a800" stroke="#000" stroke-opacity="0.45" stroke-width="0.6"/><rect x="375.2" y="314.5" width="13" height="1" fill="#000"/><path d="M452.7 290 L459.2 301 L446.2 301 Z" fill="#38a800" stroke="#000" stroke-opacity="0.45" stroke-width="0.6"/><rect x="446.2" y="300.5" width="13" height="1" fill="#000"/><path d="M599.5 230.3 L606 241.3 L593 241.3 Z" fill="#38a800" stroke="#000" stroke-opacity="0.45" stroke-width="0.6"/><rect x="593" y="240.8" width="13" height="1" fill="#000"/><path d="M601.8 321 L608.3 332 L595.3 332 Z" fill="#38a800" stroke="#000" stroke-opacity="0.45" stroke-width="0.6"/><rect x="595.3" y="331.5" width="13" height="1" fill="#000"/><path d="M651.7 253.7 L658.2 264.7 L645.2 264.7 Z" fill="#38a800" stroke="#000" stroke-opacity="0.45" stroke-width="0.6"/><rect x="645.2" y="264.2" width="13" height="1" fill="#000"/><path d="M678.6 305.7 L685.1 316.7 L672.1 316.7 Z" fill="#38a800" stroke="#000" stroke-opacity="0.45" stroke-width="0.6"/><rect x="672.1" y="316.2" width="13" height="1" fill="#000"/><path d="M672.6 317.3 L679.1 328.3 L666.1 328.3 Z" fill="#38a800" stroke="#000" stroke-opacity="0.45" stroke-width="0.6"/><rect x="666.1" y="327.8" width="13" height="1" fill="#000"/><path d="M753.6 218.8 L760.1 229.8 L747.1 229.8 Z" fill="#38a800" stroke="#000" stroke-opacity="0.45" stroke-width="0.6"/><rect x="747.1" y="229.3" width="13" height="1" fill="#000"/><path d="M576.1 352.5 L582.6 363.5 L569.6 363.5 Z" fill="#38a800" stroke="#000" stroke-opacity="0.45" stroke-width="0.6"/><rect x="569.6" y="363" width="13" height="1" fill="#000"/><path d="M560.5 363 L567 374 L554 374 Z" fill="#38a800" stroke="#000" stroke-opacity="0.45" stroke-width="0.6"/><rect x="554" y="373.5" width="13" height="1" fill="#000"/><path d="M572.6 378.4 L579.1 389.4 L566.1 389.4 Z" fill="#38a800" stroke="#000" stroke-opacity="0.45" stroke-width="0.6"/><rect x="566.1" y="388.9" width="13" height="1" fill="#000"/><path d="M674.7 344.9 L681.2 355.9 L668.2 355.9 Z" fill="#38a800" stroke="#000" stroke-opacity="0.45" stroke-width="0.6"/><rect x="668.2" y="355.4" width="13" height="1" fill="#000"/><path d="M667.5 441.9 L674 452.9 L661 452.9 Z" fill="#38a800" stroke="#000" stroke-opacity="0.45" stroke-width="0.6"/><rect x="661" y="452.4" width="13" height="1" fill="#000"/><path d="M680.8 449.2 L687.3 460.2 L674.3 460.2 Z" fill="#38a800" stroke="#000" stroke-opacity="0.45" stroke-width="0.6"/><rect x="674.3" y="459.7" width="13" height="1" fill="#000"/><path d="M680 453.5 L686.5 464.5 L673.5 464.5 Z" fill="#38a800" stroke="#000" stroke-opacity="0.45" stroke-width="0.6"/><rect x="673.5" y="464" width="13" height="1" fill="#000"/><path d="M680 458.1 L686.5 469.1 L673.5 469.1 Z" fill="#38a800" stroke="#000" stroke-opacity="0.45" stroke-width="0.6"/><rect x="673.5" y="468.6" width="13" height="1" fill="#000"/><path d="M614.5 439.4 L621 450.4 L608 450.4 Z" fill="#38a800" stroke="#000" stroke-opacity="0.45" stroke-width="0.6"/><rect x="608" y="449.9" width="13" height="1" fill="#000"/><path d="M641.4 449.2 L647.9 460.2 L634.9 460.2 Z" fill="#38a800" stroke="#000" stroke-opacity="0.45" stroke-width="0.6"/><rect x="634.9" y="459.7" width="13" height="1" fill="#000"/><path d="M563.4 453.1 L569.9 464.1 L556.9 464.1 Z" fill="#38a800" stroke="#000" stroke-opacity="0.45" stroke-width="0.6"/><rect x="556.9" y="463.6" width="13" height="1" fill="#000"/><path d="M591.4 458.4 L597.9 469.4 L584.9 469.4 Z" fill="#38a800" stroke="#000" stroke-opacity="0.45" stroke-width="0.6"/><rect x="584.9" y="468.9" width="13" height="1" fill="#000"/><path d="M600.5 479.1 L607 490.1 L594 490.1 Z" fill="#38a800" stroke="#000" stroke-opacity="0.45" stroke-width="0.6"/><rect x="594" y="489.6" width="13" height="1" fill="#000"/><path d="M598.7 482.1 L605.2 493.1 L592.2 493.1 Z" fill="#38a800" stroke="#000" stroke-opacity="0.45" stroke-width="0.6"/><rect x="592.2" y="492.6" width="13" height="1" fill="#000"/><path d="M672.7 511.3 L679.2 522.3 L666.2 522.3 Z" fill="#38a800" stroke="#000" stroke-opacity="0.45" stroke-width="0.6"/><rect x="666.2" y="521.8" width="13" height="1" fill="#000"/><path d="M398.5 365.3 L405 376.3 L392 376.3 Z" fill="#38a800" stroke="#000" stroke-opacity="0.45" stroke-width="0.6"/><rect x="392" y="375.8" width="13" height="1" fill="#000"/><path d="M334.9 393 L341.4 404 L328.4 404 Z" fill="#38a800" stroke="#000" stroke-opacity="0.45" stroke-width="0.6"/><rect x="328.4" y="403.5" width="13" height="1" fill="#000"/><path d="M362.7 428.5 L369.2 439.5 L356.2 439.5 Z" fill="#38a800" stroke="#000" stroke-opacity="0.45" stroke-width="0.6"/><rect x="356.2" y="439" width="13" height="1" fill="#000"/><path d="M297.5 466.1 L304 477.1 L291 477.1 Z" fill="#38a800" stroke="#000" stroke-opacity="0.45" stroke-width="0.6"/><rect x="291" y="476.6" width="13" height="1" fill="#000"/><path d="M155.5 413.4 L162 424.4 L149 424.4 Z" fill="#38a800" stroke="#000" stroke-opacity="0.45" stroke-width="0.6"/><rect x="149" y="423.9" width="13" height="1" fill="#000"/><path d="M222 407.5 L228.5 418.5 L215.5 418.5 Z" fill="#38a800" stroke="#000" stroke-opacity="0.45" stroke-width="0.6"/><rect x="215.5" y="418" width="13" height="1" fill="#000"/><path d="M222.3 418.1 L228.8 429.1 L215.8 429.1 Z" fill="#38a800" stroke="#000" stroke-opacity="0.45" stroke-width="0.6"/><rect x="215.8" y="428.6" width="13" height="1" fill="#000"/><path d="M250.6 466.7 L257.1 477.7 L244.1 477.7 Z" fill="#38a800" stroke="#000" stroke-opacity="0.45" stroke-width="0.6"/><rect x="244.1" y="477.2" width="13" height="1" fill="#000"/><path d="M193 482.3 L199.5 493.3 L186.5 493.3 Z" fill="#38a800" stroke="#000" stroke-opacity="0.45" stroke-width="0.6"/><rect x="186.5" y="492.8" width="13" height="1" fill="#000"/><path d="M225.8 508.4 L232.3 519.4 L219.3 519.4 Z" fill="#38a800" stroke="#000" stroke-opacity="0.45" stroke-width="0.6"/><rect x="219.3" y="518.9" width="13" height="1" fill="#000"/><path d="M241.5 519.5 L248 530.5 L235 530.5 Z" fill="#38a800" stroke="#000" stroke-opacity="0.45" stroke-width="0.6"/><rect x="235" y="530" width="13" height="1" fill="#000"/><path d="M712.4 656.9 L718.9 667.9 L705.9 667.9 Z" fill="#38a800" stroke="#000" stroke-opacity="0.45" stroke-width="0.6"/><rect x="705.9" y="667.4" width="13" height="1" fill="#000"/><path d="M712.4 667.4 L718.9 678.4 L705.9 678.4 Z" fill="#38a800" stroke="#000" stroke-opacity="0.45" stroke-width="0.6"/><rect x="705.9" y="677.9" width="13" height="1" fill="#000"/><rect x="266.8" y="250.1" width="8.5" height="8.5" fill="#9c9c9c" stroke="#000" stroke-width="1"/><rect x="295.8" y="476.2" width="8.5" height="8.5" fill="#9c9c9c" stroke="#000" stroke-width="1"/><rect x="146.8" y="412.2" width="8.5" height="8.5" fill="#9c9c9c" stroke="#000" stroke-width="1"/><rect x="146.8" y="417.2" width="8.5" height="8.5" fill="#9c9c9c" stroke="#000" stroke-width="1"/><rect x="215.1" y="411.6" width="8.5" height="8.5" fill="#9c9c9c" stroke="#000" stroke-width="1"/><rect x="216.8" y="419.1" width="8.5" height="8.5" fill="#9c9c9c" stroke="#000" stroke-width="1"/><circle cx="496.6" cy="309.1" r="6.5" fill="#005ce6"/><circle cx="651.7" cy="267.6" r="6.5" fill="#005ce6"/><circle cx="710.6" cy="383.2" r="6.5" fill="#005ce6"/><circle cx="670.7" cy="409.6" r="6.5" fill="#005ce6"/><circle cx="598.6" cy="440.1" r="6.5" fill="#005ce6"/><circle cx="605.8" cy="468" r="6.5" fill="#005ce6"/><circle cx="668.5" cy="504.2" r="6.5" fill="#005ce6"/><circle cx="370.6" cy="463.2" r="6.5" fill="#005ce6"/><circle cx="248" cy="418.9" r="6.5" fill="#005ce6"/><circle cx="249.8" cy="427.2" r="6.5" fill="#005ce6"/><circle cx="285.8" cy="426.3" r="6.5" fill="#005ce6"/><circle cx="254.6" cy="512.4" r="6.5" fill="#005ce6"/><path d="M232.6 266.6 L239.1 277.6 L226.1 277.6 Z" fill="#38a800" stroke="#000" stroke-opacity="0.45" stroke-width="0.6"/><rect x="226.1" y="277.1" width="13" height="1" fill="#000"/><path d="M220.5 282.6 L227 293.6 L214 293.6 Z" fill="#38a800" stroke="#000" stroke-opacity="0.45" stroke-width="0.6"/><rect x="214" y="293.1" width="13" height="1" fill="#000"/><path d="M569.6 354.7 L576.1 365.7 L563.1 365.7 Z" fill="#38a800" stroke="#000" stroke-opacity="0.45" stroke-width="0.6"/><rect x="563.1" y="365.2" width="13" height="1" fill="#000"/><path d="M574.1 372.9 L580.6 383.9 L567.6 383.9 Z" fill="#38a800" stroke="#000" stroke-opacity="0.45" stroke-width="0.6"/><rect x="567.6" y="383.4" width="13" height="1" fill="#000"/><path d="M605.3 466.2 L611.8 477.2 L598.8 477.2 Z" fill="#38a800" stroke="#000" stroke-opacity="0.45" stroke-width="0.6"/><rect x="598.8" y="476.7" width="13" height="1" fill="#000"/><circle cx="226.8" cy="288" r="3" fill="#000"/></g>
<text x="349.5" y="601.8" font-size="15" font-weight="bold" letter-spacing="0.62">Percent Incidence</text>
<g font-size="13" letter-spacing="-0.25">
<text x="354.4" y="642.6">0</text>
<text x="355.8" y="669.9">1-5</text>
<text x="354.9" y="705.6">6-15</text>
<text x="499" y="642.1">16-25</text>
<text x="499.9" y="671.3">26-50</text>
<text x="499.9" y="701.7">&gt; 50</text>
</g>
<g><circle cx="335.8" cy="636.7" r="3" fill="#000"/><rect x="331.1" y="661.4" width="8.5" height="8.5" fill="#9c9c9c" stroke="#000" stroke-width="1"/><path d="M335.9 694.1 L342.4 704.1 L329.4 704.1 Z" fill="#38a800" stroke="#000" stroke-opacity="0.45" stroke-width="0.6"/><rect x="329.4" y="703.6" width="13" height="1" fill="#000"/><circle cx="474.8" cy="636.5" r="6.5" fill="#005ce6"/><rect x="467.9" y="658.1" width="13.5" height="13.5" fill="#e6e600" stroke="#000" stroke-width="1"/><path d="M474.8 687.3 L484.8 704.3 L464.8 704.3 Z" fill="#ff0000" stroke="#000" stroke-opacity="0.45" stroke-width="0.6"/><rect x="464.8" y="703.8" width="20" height="1" fill="#000"/></g>
</svg>
</body></html>
